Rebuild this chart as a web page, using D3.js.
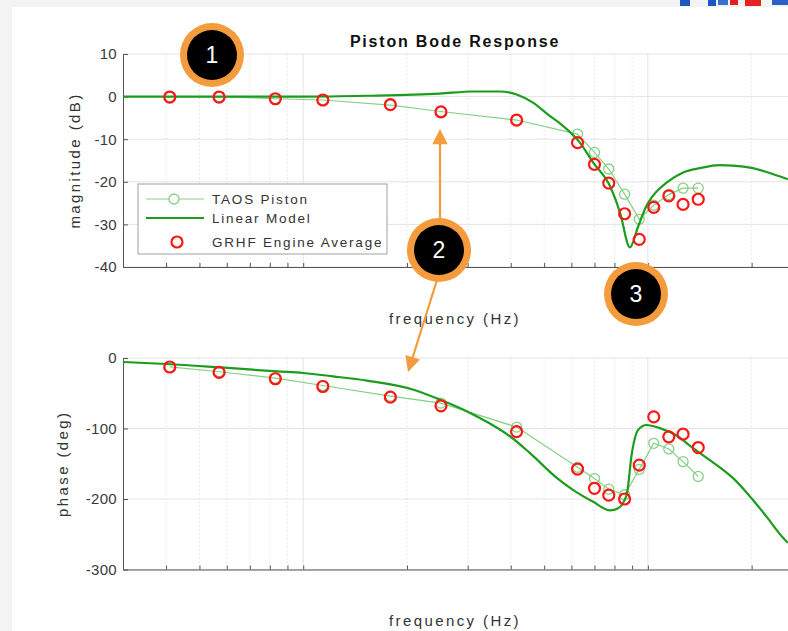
<!DOCTYPE html>
<html>
<head>
<meta charset="utf-8">
<script src="https://cdn.jsdelivr.net/npm/d3@7"></script>
<style>
    body { margin: 0; background: #f3f3f3; }
    svg { display: block; }
    text { font-family: "Liberation Sans", Arial, sans-serif; }
</style>
</head>
<body>
<svg width="788" height="631"></svg>
<script>
// measured points (Hz)
var freq = [4.1, 5.7, 8.3, 11.4, 17.9, 25.1, 41.6, 62.5, 70, 77, 85.6, 94.4, 104, 115, 126.5, 140];
var taosMag  = [0, 0, -0.5, -0.8, -2.0, -3.5, -5.5, -8.8, -13.1, -17, -22.9, -28.8, -25.5, -23, -21.5, -21.5];
var grhfMag  = [-0.1, -0.1, -0.5, -0.8, -1.9, -3.6, -5.5, -10.8, -15.9, -20.3, -27.5, -33.5, -26, -23.3, -25.3, -24.1];
var taosPhase = [-12.5, -19.5, -28.5, -39, -54, -64, -98, -155, -171, -186, -194, -158, -121, -129, -147, -168];
var grhfPhase = [-12.8, -20.5, -29.4, -40.4, -55.5, -67.8, -104.4, -157.6, -184.8, -194.6, -200, -152, -83.5, -111.8, -108, -127];

// linear model
var modelMagFreq = [3, 5, 7, 10, 15.3, 24.9, 31.1, 37.2, 41.6, 46.4, 52, 55.6, 63.5, 69.4, 77.6, 83, 88.7, 93.7, 99.1, 103.4, 113.3, 126.6, 141.5, 161.7, 176.4, 201.5, 220.9, 254.6];
var modelMag = [0, 0, 0, 0, 0.2, 0.7, 1.2, 1.2, 0.5, -1.4, -4.6, -6.3, -10.8, -15.5, -21, -27.2, -35.4, -30.5, -25.6, -23.3, -20.2, -17.8, -16.8, -16.1, -16.2, -16.8, -17.7, -19.4];
var modelPhaseFreq = [3, 4.02, 5.75, 8.4, 10, 12.2, 15.3, 20.9, 24.9, 30.5, 34.8, 39.8, 45.5, 54.4, 60.6, 69.4, 77.6, 82, 86.8, 89.7, 93.7, 99.1, 108.3, 121.1, 135.3, 151.2, 161.7, 176.4, 201.5, 220.9, 246.7, 254.6];
var modelPhase = [-5.7, -8.5, -13.4, -19, -21.3, -26, -32, -45, -59, -78, -93, -111, -135, -170, -187, -204, -216, -213, -194, -137.5, -102, -95, -99.5, -110, -128, -145, -155, -170, -201, -225, -255, -262];

var magTicks = [10, 0, -10, -20, -30, -40];
var phaseTicks = [0, -100, -200, -300];
var majorFreq = [10, 100];
var minorFreq = [4, 5, 6, 7, 8, 9, 20, 30, 40, 50, 60, 70, 80, 90, 200];
var legendLabels = ["TAOS Piston", "Linear Model", "GRHF Engine Average"];

var lightGreen = "#86d086", darkGreen = "#1c9c1c", red = "#ff1616", orange = "#f39b3d";

var svg = d3.select("svg");

// page panel
svg.append("rect").attr("x", 12).attr("y", 7).attr("width", 776).attr("height", 624).attr("fill", "#fff");

// cut-off logo in the corner
var logo = svg.append("g");
logo.append("rect").attr("x", 680).attr("y", 0).attr("width", 10).attr("height", 6).attr("fill", "#1d58c0");
logo.append("rect").attr("x", 708).attr("y", 0).attr("width", 8).attr("height", 6).attr("fill", "#1d58c0");
logo.append("rect").attr("x", 718).attr("y", 0).attr("width", 10).attr("height", 5).attr("fill", "#3a6fd0");
logo.append("rect").attr("x", 730).attr("y", 0).attr("width", 8).attr("height", 5).attr("fill", "#e02020");
logo.append("rect").attr("x", 745).attr("y", 0).attr("width", 16).attr("height", 6).attr("fill", "#e42222");
logo.append("rect").attr("x", 772).attr("y", 0).attr("width", 16).attr("height", 5).attr("fill", "#2a60c8");

var x = d3.scaleLog().domain([3, 255]).range([123, 788]);

function panel(y, ticks, ylabel, labelX, xlabelY) {
    var g = svg.append("g");
    var x0 = x.range()[0], x1 = x.range()[1];
    var y0 = y.range()[0], y1 = y.range()[1];

    // grid
    g.selectAll(".hgrid").data(ticks).enter().append("line")
        .attr("x1", x0).attr("x2", x1)
        .attr("y1", y).attr("y2", y)
        .attr("stroke", "#e4e4e4");
    g.selectAll(".vmaj").data(majorFreq).enter().append("line")
        .attr("x1", x).attr("x2", x)
        .attr("y1", y1).attr("y2", y0)
        .attr("stroke", "#e4e4e4");
    g.selectAll(".vmin").data(minorFreq).enter().append("line")
        .attr("x1", x).attr("x2", x)
        .attr("y1", y1).attr("y2", y0)
        .attr("stroke", "#d8d8d8")
        .attr("stroke-dasharray", "1,3");

    // axes
    var ay = g.append("g")
        .attr("transform", "translate(" + x0 + ",0)")
        .call(d3.axisLeft(y).tickValues(ticks).tickSize(-5).tickSizeOuter(0).tickPadding(6)
            .tickFormat(function(d) { return String(d); }));
    ay.select(".domain").attr("stroke", "#555");
    ay.selectAll("line").attr("stroke", "#555");
    ay.selectAll("text").attr("fill", "#3a3a3a").style("font-size", "15px").style("letter-spacing", "0.3px");

    var ax = g.append("g")
        .attr("transform", "translate(0," + y0 + ")")
        .call(d3.axisBottom(x).tickValues(majorFreq.concat(minorFreq)).tickSize(-4).tickSizeOuter(0).tickFormat(""));
    ax.select(".domain").attr("stroke", "#555");
    ax.selectAll("line").attr("stroke", "#555");

    g.append("text")
        .attr("transform", "translate(" + labelX + "," + ((y0 + y1) / 2) + ")rotate(-90)")
        .attr("text-anchor", "middle")
        .attr("fill", "#333")
        .style("font-size", "15px")
        .style("letter-spacing", "2.4px")
        .text(ylabel);

    g.append("text")
        .attr("x", 455).attr("y", xlabelY)
        .attr("text-anchor", "middle")
        .attr("fill", "#333")
        .style("font-size", "15px")
        .style("letter-spacing", "2.4px")
        .text("frequency (Hz)");
    return g;
}

function series(g, y, taos, model, modelFreq, grhf) {
    g.append("path")
        .datum(freq)
        .attr("fill", "none")
        .attr("stroke", lightGreen)
        .attr("stroke-width", 1.2)
        .attr("d", d3.line().x(function(d) { return x(d); }).y(function(d, i) { return y(taos[i]); }));
    g.selectAll(".taos").data(freq).enter().append("circle")
        .attr("cx", x).attr("cy", function(d, i) { return y(taos[i]); })
        .attr("r", 5)
        .attr("fill", "none")
        .attr("stroke", lightGreen)
        .attr("stroke-width", 1.3);
    g.append("path")
        .datum(modelFreq)
        .attr("fill", "none")
        .attr("stroke", darkGreen)
        .attr("stroke-width", 2.2)
        .attr("d", d3.line().curve(d3.curveMonotoneX).x(function(d) { return x(d); }).y(function(d, i) { return y(model[i]); }));
    g.selectAll(".grhf").data(freq).enter().append("circle")
        .attr("cx", x).attr("cy", function(d, i) { return y(grhf[i]); })
        .attr("r", 5.5)
        .attr("fill", "none")
        .attr("stroke", red)
        .attr("stroke-width", 2.2);
}

var yMag = d3.scaleLinear().domain([-40, 10]).range([267, 54]);
var yPhase = d3.scaleLinear().domain([-300, 0]).range([569.5, 358]);

var magPanel = panel(yMag, magTicks, "magnitude (dB)", 80, 324);
var phasePanel = panel(yPhase, phaseTicks, "phase (deg)", 68, 626);
series(magPanel, yMag, taosMag, modelMag, modelMagFreq, grhfMag);
series(phasePanel, yPhase, taosPhase, modelPhase, modelPhaseFreq, grhfPhase);

svg.append("text")
    .attr("x", 455).attr("y", 47)
    .attr("text-anchor", "middle")
    .attr("fill", "#111")
    .style("font-size", "16px")
    .style("font-weight", "bold")
    .style("letter-spacing", "1.8px")
    .text("Piston Bode Response");

// legend
var lg = svg.append("g").attr("transform", "translate(138,184)");
lg.append("rect").attr("width", 249).attr("height", 70)
    .attr("fill", "#fff").attr("stroke", "#a0a0a0");
var item = lg.selectAll(".item").data(legendLabels).enter().append("g")
    .attr("transform", function(d, i) { return "translate(0," + [15, 34, 58][i] + ")"; });
item.append("text")
    .attr("x", 74).attr("dy", "0.35em")
    .attr("fill", "#333")
    .style("font-size", "13.5px")
    .style("letter-spacing", "1.8px")
    .text(function(d) { return d; });
item.filter(function(d, i) { return i === 0; }).each(function() {
    var s = d3.select(this);
    s.append("line").attr("x1", 8).attr("x2", 66).attr("stroke", lightGreen).attr("stroke-width", 1.2);
    s.append("circle").attr("cx", 36).attr("r", 5).attr("fill", "#fff").attr("stroke", lightGreen).attr("stroke-width", 1.3);
});
item.filter(function(d, i) { return i === 1; })
    .append("line").attr("x1", 8).attr("x2", 66).attr("stroke", darkGreen).attr("stroke-width", 2.2);
item.filter(function(d, i) { return i === 2; })
    .append("circle").attr("cx", 39).attr("r", 5.5).attr("fill", "none").attr("stroke", red).attr("stroke-width", 2.2);

// annotations
svg.append("defs").append("marker")
    .attr("id", "head")
    .attr("viewBox", "0 0 10 10")
    .attr("refX", 8).attr("refY", 5)
    .attr("markerWidth", 7.5).attr("markerHeight", 7)
    .attr("markerUnits", "strokeWidth")
    .attr("orient", "auto")
    .append("path").attr("d", "M0,0L10,5L0,10z").attr("fill", orange);

svg.append("line").attr("x1", 440).attr("y1", 220).attr("x2", 440).attr("y2", 132)
    .attr("stroke", orange).attr("stroke-width", 2.2).attr("marker-end", "url(#head)");
svg.append("line").attr("x1", 437).attr("y1", 280).attr("x2", 409).attr("y2", 369)
    .attr("stroke", orange).attr("stroke-width", 2.2).attr("marker-end", "url(#head)");

var badges = [["1", 212, 55], ["2", 439, 250], ["3", 636, 294]];
var badge = svg.selectAll(".badge").data(badges).enter().append("g")
    .attr("transform", function(d) { return "translate(" + d[1] + "," + d[2] + ")"; });
badge.append("circle").attr("r", 32).attr("fill", orange);
badge.append("circle").attr("r", 25).attr("fill", "#000");
badge.append("text")
    .attr("text-anchor", "middle").attr("dy", "0.36em")
    .attr("fill", "#fff")
    .style("font-size", "23px")
    .text(function(d) { return d[0]; });
</script>
</body>
</html>
